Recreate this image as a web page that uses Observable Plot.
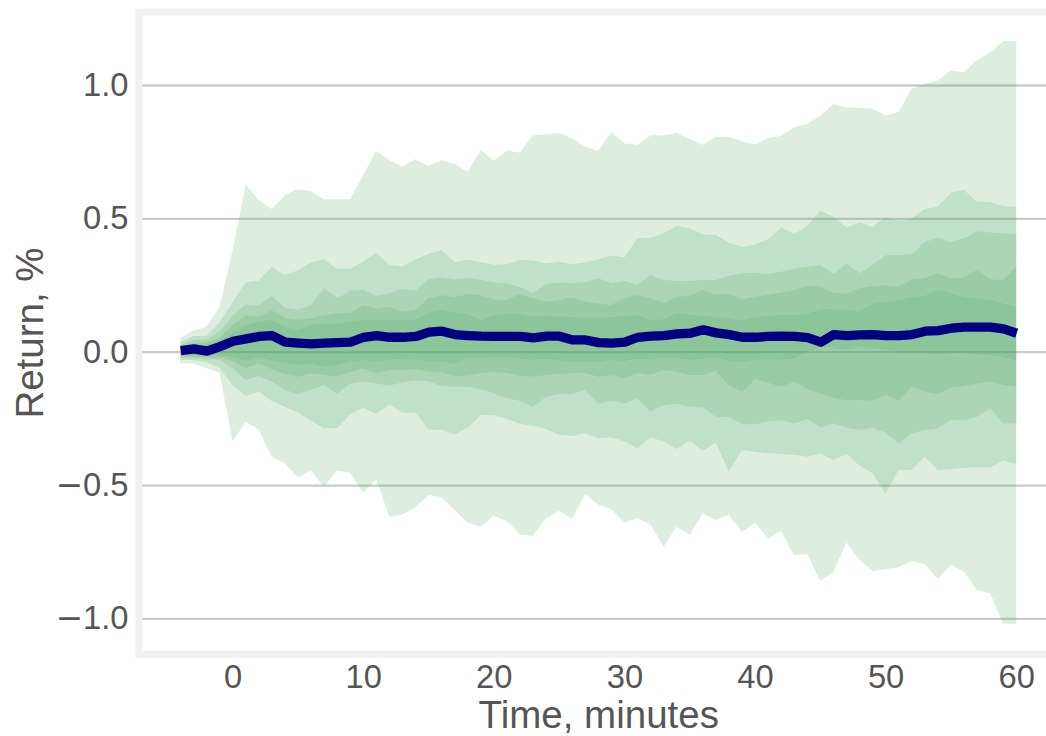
<!DOCTYPE html>
<html>
<head>
<meta charset="utf-8">
<script src="https://cdn.jsdelivr.net/npm/d3@7"></script>
<script src="https://cdn.jsdelivr.net/npm/@observablehq/plot@0.6"></script>
<style>
  html, body { margin: 0; padding: 0; background: #ffffff; }
  #chart { width: 1046px; height: 736px; overflow: hidden; }
  #chart svg { overflow: hidden; }
</style>
</head>
<body>
<div id="chart"></div>
<script>
const minutes = [-4,-3,-2,-1,0,1,2,3,4,5,6,7,8,9,10,11,12,13,14,15,16,17,18,19,20,21,22,23,24,25,26,27,28,29,30,31,32,33,34,35,36,37,38,39,40,41,42,43,44,45,46,47,48,49,50,51,52,53,54,55,56,57,58,59,60];

const median = [
  0.006,0.0125,0.004,0.021,0.041,0.05,0.059,0.0625,0.0375,0.034,
  0.031,0.034,0.036,0.0375,0.056,0.0625,0.056,0.056,0.059,0.075,
  0.079,0.066,0.0625,0.06,0.059,0.059,0.059,0.054,0.06,0.06,
  0.046,0.046,0.036,0.034,0.0375,0.056,0.06,0.0625,0.069,0.071,
  0.084,0.0725,0.066,0.056,0.056,0.059,0.06,0.059,0.055,0.0375,
  0.066,0.0625,0.065,0.066,0.0625,0.0625,0.066,0.079,0.081,0.09,
  0.094,0.094,0.094,0.0875,0.071];

const outerHi = [
  0.05,0.08,0.093,0.168,0.38,0.627,0.569,0.535,0.587,0.61,
  0.602,0.572,0.572,0.572,0.662,0.754,0.719,0.694,0.722,0.696,
  0.719,0.704,0.675,0.756,0.716,0.754,0.747,0.812,0.815,0.819,
  0.8,0.769,0.754,0.824,0.781,0.776,0.812,0.812,0.82,0.799,
  0.776,0.805,0.806,0.789,0.777,0.8,0.81,0.842,0.855,0.884,
  0.93,0.916,0.915,0.912,0.886,0.9,0.986,1.006,1.017,1.055,
  1.047,1.094,1.122,1.164,1.166];
const outerLo = [
  -0.044,-0.044,-0.062,-0.078,-0.337,-0.264,-0.291,-0.396,-0.419,-0.471,
  -0.446,-0.506,-0.446,-0.454,-0.529,-0.479,-0.619,-0.611,-0.584,-0.536,
  -0.547,-0.594,-0.641,-0.656,-0.616,-0.635,-0.685,-0.69,-0.625,-0.597,
  -0.626,-0.535,-0.574,-0.591,-0.641,-0.625,-0.648,-0.731,-0.656,-0.687,
  -0.606,-0.631,-0.612,-0.677,-0.64,-0.7,-0.672,-0.764,-0.759,-0.86,
  -0.827,-0.715,-0.781,-0.822,-0.816,-0.808,-0.785,-0.797,-0.852,-0.8,
  -0.825,-0.894,-0.906,-1.019,-1.021];

const band2Hi = [
  0.035,0.059,0.06,0.11,0.185,0.26,0.266,0.319,0.287,0.305,
  0.335,0.347,0.311,0.311,0.338,0.37,0.325,0.32,0.346,0.366,
  0.381,0.336,0.345,0.335,0.326,0.328,0.344,0.342,0.331,0.337,
  0.328,0.335,0.347,0.361,0.354,0.425,0.427,0.444,0.471,0.462,
  0.44,0.439,0.409,0.394,0.402,0.422,0.466,0.441,0.471,0.529,
  0.506,0.466,0.485,0.469,0.504,0.491,0.5,0.535,0.544,0.597,
  0.606,0.562,0.561,0.546,0.544];
const band2Lo = [
  -0.03,-0.031,-0.04,-0.06,-0.125,-0.165,-0.15,-0.185,-0.206,-0.228,
  -0.258,-0.287,-0.287,-0.235,-0.21,-0.233,-0.198,-0.229,-0.229,-0.292,
  -0.293,-0.31,-0.286,-0.237,-0.238,-0.252,-0.27,-0.278,-0.29,-0.311,
  -0.316,-0.306,-0.325,-0.321,-0.337,-0.362,-0.322,-0.337,-0.365,-0.334,
  -0.371,-0.341,-0.45,-0.369,-0.375,-0.381,-0.384,-0.387,-0.394,-0.381,
  -0.406,-0.384,-0.427,-0.456,-0.534,-0.444,-0.444,-0.394,-0.444,-0.441,
  -0.435,-0.434,-0.434,-0.409,-0.422];

const band3Hi = [
  0.025,0.044,0.046,0.075,0.135,0.177,0.172,0.21,0.165,0.157,
  0.175,0.24,0.2,0.228,0.232,0.209,0.22,0.235,0.229,0.271,
  0.279,0.271,0.275,0.27,0.26,0.256,0.243,0.219,0.254,0.259,
  0.257,0.261,0.275,0.256,0.265,0.25,0.287,0.269,0.265,0.265,
  0.269,0.269,0.284,0.294,0.296,0.291,0.3,0.311,0.319,0.325,
  0.291,0.331,0.294,0.325,0.362,0.362,0.366,0.41,0.427,0.41,
  0.425,0.452,0.447,0.444,0.441];
const band3Lo = [
  -0.022,-0.025,-0.028,-0.03,-0.062,-0.106,-0.091,-0.112,-0.144,-0.159,
  -0.144,-0.125,-0.159,-0.119,-0.112,-0.119,-0.128,-0.115,-0.107,-0.11,
  -0.13,-0.131,-0.131,-0.141,-0.156,-0.175,-0.184,-0.206,-0.169,-0.16,
  -0.159,-0.144,-0.194,-0.184,-0.194,-0.175,-0.225,-0.2,-0.194,-0.206,
  -0.209,-0.244,-0.246,-0.272,-0.272,-0.262,-0.256,-0.269,-0.252,-0.284,
  -0.269,-0.284,-0.294,-0.284,-0.304,-0.344,-0.306,-0.294,-0.2875,-0.256,
  -0.256,-0.244,-0.2125,-0.269,-0.269];

const band4Hi = [
  0.02,0.03,0.035,0.05,0.1,0.137,0.131,0.156,0.125,0.119,
  0.125,0.137,0.144,0.146,0.175,0.162,0.169,0.15,0.155,0.2,
  0.212,0.204,0.216,0.212,0.196,0.194,0.216,0.2,0.187,0.194,
  0.204,0.187,0.18,0.175,0.2,0.2125,0.2,0.184,0.206,0.209,
  0.231,0.216,0.216,0.196,0.206,0.2125,0.221,0.231,0.246,0.244,
  0.221,0.216,0.2375,0.246,0.25,0.244,0.271,0.275,0.294,0.275,
  0.279,0.306,0.271,0.269,0.319];
const band4Lo = [
  -0.015,-0.02,-0.02,-0.022,-0.037,-0.062,-0.044,-0.066,-0.084,-0.094,
  -0.081,-0.0875,-0.094,-0.075,-0.062,-0.081,-0.069,-0.069,-0.065,-0.075,
  -0.078,-0.09,-0.09,-0.08,-0.075,-0.08,-0.09,-0.094,-0.087,-0.084,
  -0.08,-0.08,-0.094,-0.0875,-0.1,-0.079,-0.0875,-0.069,-0.075,-0.0875,
  -0.0875,-0.071,-0.129,-0.15,-0.104,-0.116,-0.131,-0.1125,-0.141,-0.156,
  -0.175,-0.181,-0.181,-0.184,-0.1625,-0.184,-0.131,-0.15,-0.159,-0.134,
  -0.129,-0.119,-0.1125,-0.125,-0.131];

const band5Hi = [
  0.015,0.025,0.025,0.04,0.069,0.1,0.1125,0.119,0.094,0.081,
  0.1,0.106,0.104,0.1125,0.119,0.119,0.118,0.119,0.12,0.146,
  0.156,0.146,0.141,0.119,0.1375,0.141,0.141,0.131,0.134,0.131,
  0.131,0.125,0.128,0.129,0.134,0.1375,0.119,0.121,0.146,0.1375,
  0.134,0.129,0.125,0.116,0.129,0.134,0.1375,0.1375,0.14,0.159,
  0.159,0.156,0.15,0.179,0.1875,0.194,0.204,0.209,0.231,0.219,
  0.204,0.2,0.194,0.181,0.169];
const band5Lo = [
  -0.01,-0.012,-0.012,-0.015,-0.019,-0.031,-0.021,-0.031,-0.041,-0.05,
  -0.044,-0.056,-0.05,-0.037,-0.031,-0.037,-0.031,-0.025,-0.03,-0.034,
  -0.037,-0.045,-0.022,-0.025,-0.019,-0.019,-0.025,-0.031,-0.025,-0.031,
  -0.037,-0.037,-0.04,-0.03,-0.035,-0.025,-0.03,-0.02,-0.022,-0.03,
  -0.025,-0.02,-0.035,-0.04,-0.03,-0.028,-0.03,-0.025,0.0,0.019,
  0.015,0.006,0.02,0.0125,0.006,0.0,-0.006,-0.006,-0.009,-0.006,
  -0.004,-0.0125,-0.0125,-0.019,-0.034];

const xTicks = [0, 10, 20, 30, 40, 50, 60];
const yTicks = [-1.0, -0.5, 0.0, 0.5, 1.0];
const yTickLabels = ["\u22121.0", "\u22120.5", "0.0", "0.5", "1.0"];
const xLabel = ["Time, minutes"];
const yLabel = ["Return, %"];

const bands = [
  {lo: outerLo, hi: outerHi},
  {lo: band2Lo, hi: band2Hi},
  {lo: band3Lo, hi: band3Hi},
  {lo: band4Lo, hi: band4Hi},
  {lo: band5Lo, hi: band5Hi}
];

const rows = minutes.map((t, i) => ({t, median: median[i]}));

const bandMarks = bands.map(b =>
  Plot.areaY(minutes.map((t, i) => ({t, lo: b.lo[i], hi: b.hi[i]})), {
    x: "t", y1: "lo", y2: "hi",
    fill: "#55a868", fillOpacity: 0.2
  })
);

const textColor = "#555555";
const font = "'Liberation Sans', Arial, Helvetica, sans-serif";

const chart = Plot.plot({
  width: 1046,
  height: 736,
  marginLeft: 138.5,
  marginRight: -12,
  marginTop: 11.5,
  marginBottom: 82.5,
  style: {fontFamily: font, fontSize: "32.7px", color: textColor, background: "#ffffff"},
  x: {domain: [-7.2, 63.2]},
  y: {domain: [-1.1317, 1.2757]},
  marks: [
    Plot.ruleY(yTicks, {stroke: "#cbcbcb", strokeWidth: 2.3}),
    ...bandMarks,
    Plot.lineY(rows, {x: "t", y: "median", stroke: "#000080", strokeWidth: 9.3,
      strokeLinejoin: "round", strokeLinecap: "butt"}),
    Plot.frame({stroke: "#f0f0f0", strokeWidth: 7}),
    Plot.axisY(yTicks, {tickSize: 0, tickPadding: 10.5, label: null,
      tickFormat: d => yTickLabels[yTicks.indexOf(d)], fill: textColor}),
    Plot.axisX(xTicks, {tickSize: 0, tickPadding: 11, label: null, fill: textColor}),
    Plot.text(xLabel, {text: d => d, frameAnchor: "bottom", lineAnchor: "top",
      dy: 46.5, fontSize: 38.5, fill: textColor}),
    Plot.text(yLabel, {text: d => d, frameAnchor: "left", rotate: -90,
      textAnchor: "middle", lineAnchor: "middle", dx: -108, fontSize: 38.5, fill: textColor})
  ]
});

// The reference renders the minus sign with the wider DejaVu glyph
d3.select(chart).selectAll('g[aria-label="y-axis tick label"] text').each(function() {
  const s = this.textContent;
  if (s.startsWith("\u2212")) {
    const el = d3.select(this);
    el.text(null);
    el.append("tspan").attr("font-family", "'DejaVu Sans'").text("\u2212");
    el.append("tspan").text(s.slice(1));
  }
});

document.getElementById("chart").appendChild(chart);
</script>
</body>
</html>
